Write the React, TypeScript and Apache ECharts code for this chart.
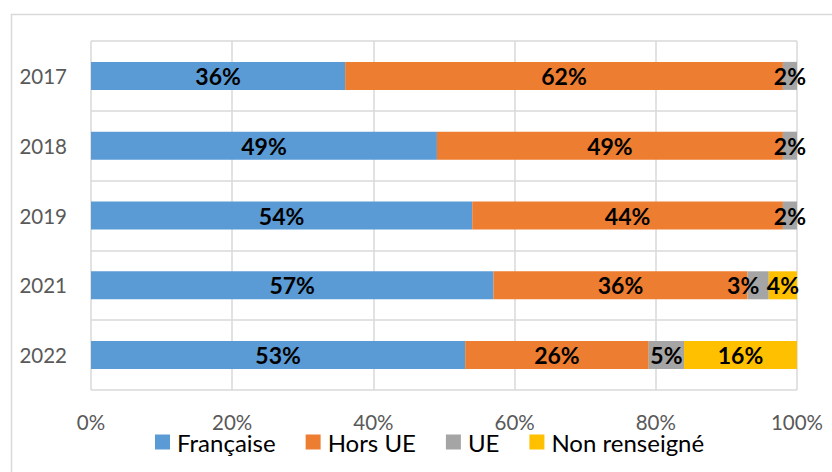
import React, { useEffect, useRef } from "react";
import * as echarts from "echarts";

const years = ["2017", "2018", "2019", "2021", "2022"];
const francaise = [36, 49, 54, 57, 53];
const horsUE = [62, 49, 44, 36, 26];
const ue = [2, 2, 2, 3, 5];
const nonRenseigne = [0, 0, 0, 4, 16];
const xTicks = { min: 0, max: 100, interval: 20 };

const FONT = "Lato, 'Liberation Sans', sans-serif";

export default function App() {
  const ref = useRef<HTMLDivElement>(null);
  useEffect(() => {
    if (!ref.current) return;
    const chart = echarts.init(ref.current, null, { renderer: "svg" });
    const label = {
      show: true,
      position: "inside",
      color: "#000",
      fontWeight: "bold",
      fontSize: 23,
      fontFamily: FONT,
      formatter: (p: any) => (p.value > 0 ? p.value + "%" : ""),
    };
    const mk = (name: string, data: any[], color: string) => ({
      name,
      type: "bar",
      stack: "total",
      data,
      barWidth: 28,
      itemStyle: { color },
      label,
    });
    // Excel shifts the 2021 "UE" label left to avoid the neighbouring label
    const ueData = ue.map((v, i) =>
      years[i] === "2021" ? { value: v, label: { offset: [-15, 0] } } : v
    );
    chart.setOption({
      animation: false,
      textStyle: { fontFamily: FONT },
      graphic: [
        {
          type: "rect",
          shape: { x: 11.5, y: 14.5, width: 840, height: 480 },
          style: { fill: "none", stroke: "#d9d9d9", lineWidth: 1.5 },
          silent: true,
        },
      ],
      grid: { left: 91, right: 35, top: 41, bottom: 82, outerBoundsMode: "none", containLabel: false },
      legend: {
        top: 425,
        left: 150,
        icon: "rect",
        itemWidth: 15,
        itemHeight: 15,
        itemGap: 30,
        textStyle: { fontSize: 24, color: "#000", fontFamily: FONT, padding: [0, 0, 0, 2] },
        data: ["Française", "Hors UE", "UE", "Non renseigné"],
      },
      xAxis: {
        type: "value",
        min: xTicks.min,
        max: xTicks.max,
        interval: xTicks.interval,
        axisLine: { show: false },
        axisTick: { show: false },
        axisLabel: { formatter: "{value}%", color: "#595959", fontSize: 20.5, margin: 21, fontFamily: FONT },
        splitLine: { show: true, lineStyle: { color: "#d9d9d9", width: 1.5 } },
      },
      yAxis: {
        type: "category",
        data: years,
        inverse: true,
        axisLine: { show: false },
        axisTick: { show: false },
        axisLabel: { color: "#595959", fontSize: 20.5, margin: 24, fontFamily: FONT },
        splitLine: { show: true, lineStyle: { color: "#d9d9d9", width: 1.5 } },
      },
      series: [
        mk("Française", francaise, "#5b9bd5"),
        mk("Hors UE", horsUE, "#ed7d31"),
        mk("UE", ueData, "#a5a5a5"),
        mk("Non renseigné", nonRenseigne, "#ffc000"),
      ],
    });
    return () => chart.dispose();
  }, []);
  return (
    <div
      ref={ref}
      style={{ position: "fixed", left: 0, top: 0, width: 832, height: 472, background: "#fff" }}
    />
  );
}
